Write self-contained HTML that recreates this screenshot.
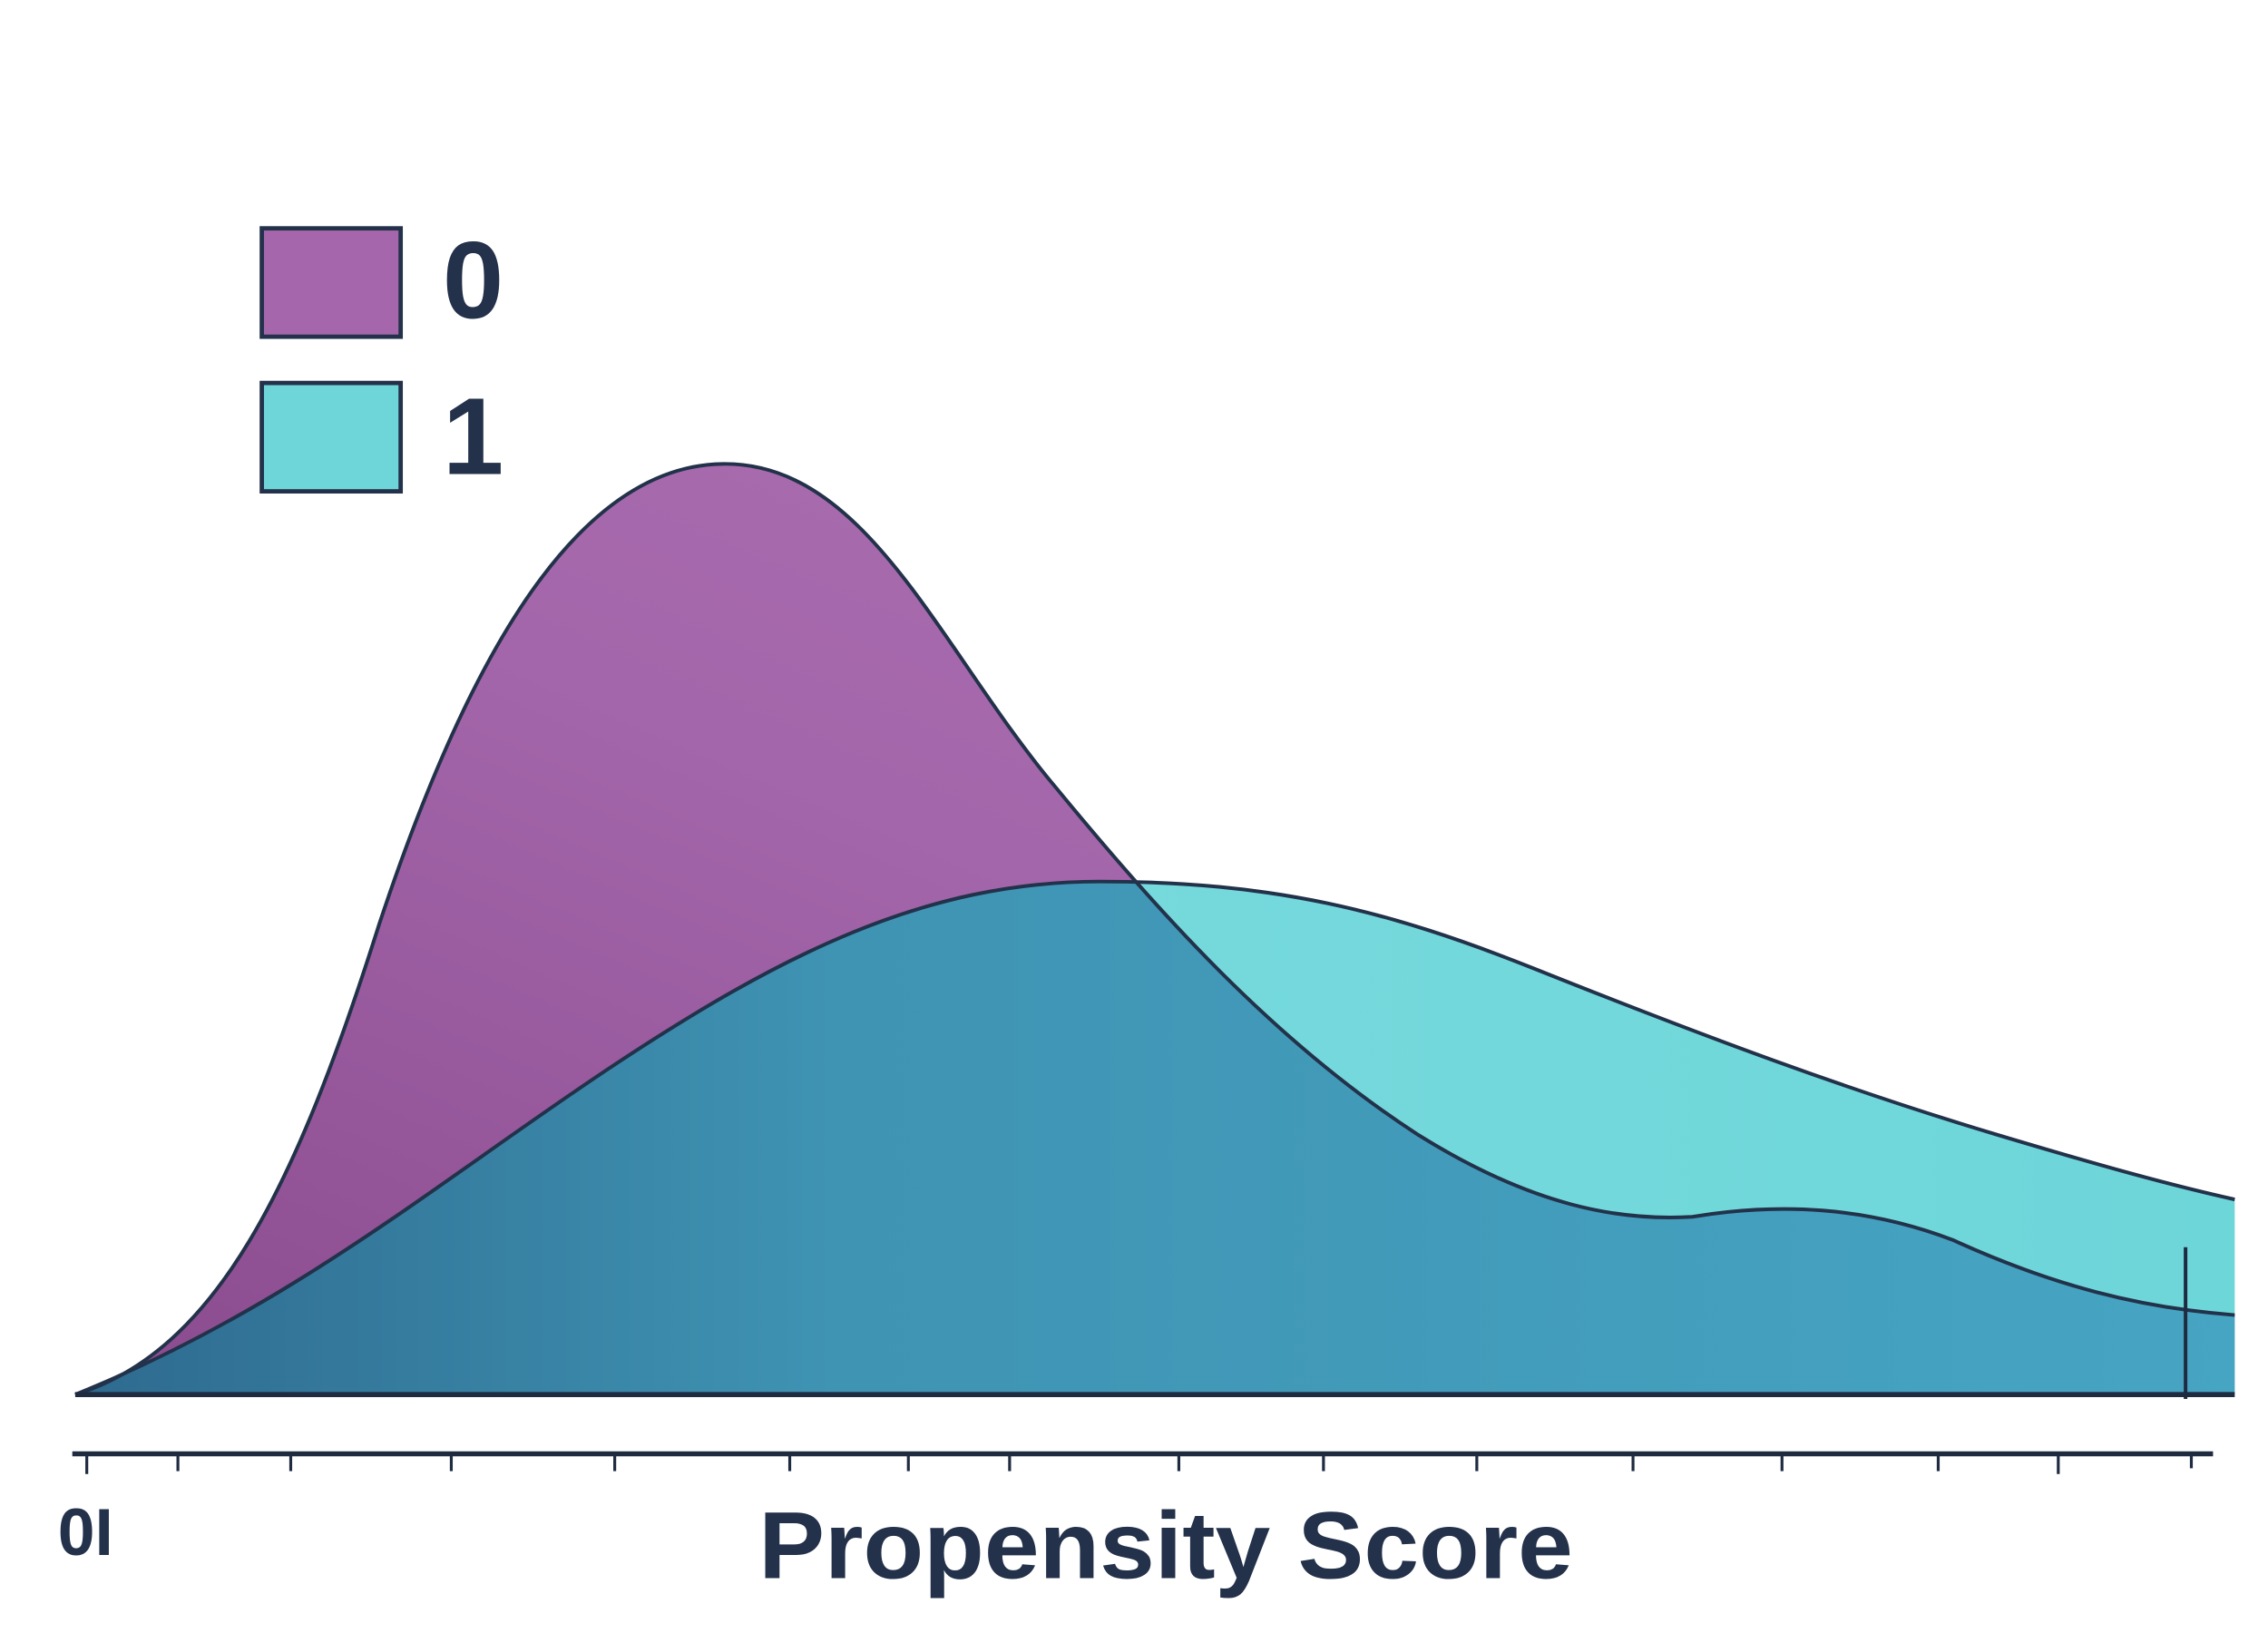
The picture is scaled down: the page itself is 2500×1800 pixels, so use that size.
<!DOCTYPE html>
<html><head><meta charset="utf-8"><style>
html,body{margin:0;padding:0;background:#fff;}
svg{display:block;}
</style></head><body>
<svg width="2500" height="1800" viewBox="0 0 1568 1130" preserveAspectRatio="none" xmlns="http://www.w3.org/2000/svg">
<defs>
<linearGradient id="pg" x1="0" y1="1" x2="1" y2="0">
<stop offset="0" stop-color="#8a4a8e"/><stop offset="0.5" stop-color="#a466aa"/><stop offset="1" stop-color="#ad72b2"/>
</linearGradient>
<linearGradient id="og" x1="0" y1="0" x2="1" y2="0">
<stop offset="0" stop-color="#2e6a8f"/><stop offset="0.35" stop-color="#3f93b3"/><stop offset="1" stop-color="#46a5c3"/>
</linearGradient>
<linearGradient id="tg" x1="0" y1="0" x2="1" y2="0">
<stop offset="0" stop-color="#7edcdf"/><stop offset="1" stop-color="#6dd6d9"/>
</linearGradient>
<clipPath id="pc"><path d="M52,965 C150,935 205,820 262,640 C315,480 390,322 500,321 C600,320 650,450 730,545 C800,630 880,720 980,785 C1060,835 1120,845 1170,842 C1230,832 1290,835 1350,858 C1420,890 1480,905 1545,910 L1545,965 Z"/></clipPath>
</defs>
<path d="M52,965 C150,935 205,820 262,640 C315,480 390,322 500,321 C600,320 650,450 730,545 C800,630 880,720 980,785 C1060,835 1120,845 1170,842 C1230,832 1290,835 1350,858 C1420,890 1480,905 1545,910 L1545,965 Z" fill="url(#pg)"/>
<path d="M52,965 C200,905 300,820 420,740 C540,660 640,610 760,610 C880,610 960,630 1060,670 C1180,718 1280,755 1380,785 C1450,806 1500,820 1545,830 L1545,965 Z" fill="url(#tg)"/>
<path d="M52,965 C200,905 300,820 420,740 C540,660 640,610 760,610 C880,610 960,630 1060,670 C1180,718 1280,755 1380,785 C1450,806 1500,820 1545,830 L1545,965 Z" fill="url(#og)" clip-path="url(#pc)"/>
<path d="M52,965 C150,935 205,820 262,640 C315,480 390,322 500,321 C600,320 650,450 730,545 C800,630 880,720 980,785 C1060,835 1120,845 1170,842 C1230,832 1290,835 1350,858 C1420,890 1480,905 1545,910" fill="none" stroke="#22324a" stroke-width="2.5"/>
<path d="M52,965 C200,905 300,820 420,740 C540,660 640,610 760,610 C880,610 960,630 1060,670 C1180,718 1280,755 1380,785 C1450,806 1500,820 1545,830" fill="none" stroke="#22324a" stroke-width="2.5"/>
<line x1="52" y1="965" x2="1545" y2="965" stroke="#1e2b40" stroke-width="3.5"/>
<line x1="1511" y1="863" x2="1511" y2="968" stroke="#1e2b40" stroke-width="2.5"/>
<line x1="50" y1="1006" x2="1530" y2="1006" stroke="#1e2b40" stroke-width="3.5"/>
<g stroke="#1e2b40" stroke-width="2">
<line x1="60" y1="1006" x2="60" y2="1020"/><line x1="123" y1="1006" x2="123" y2="1018"/><line x1="201" y1="1006" x2="201" y2="1018"/><line x1="312" y1="1006" x2="312" y2="1018"/><line x1="425" y1="1006" x2="425" y2="1018"/><line x1="546" y1="1006" x2="546" y2="1018"/><line x1="628" y1="1006" x2="628" y2="1018"/><line x1="698" y1="1006" x2="698" y2="1018"/><line x1="815" y1="1006" x2="815" y2="1018"/><line x1="915" y1="1006" x2="915" y2="1018"/><line x1="1021" y1="1006" x2="1021" y2="1018"/><line x1="1129" y1="1006" x2="1129" y2="1018"/><line x1="1232" y1="1006" x2="1232" y2="1018"/><line x1="1340" y1="1006" x2="1340" y2="1018"/><line x1="1423" y1="1006" x2="1423" y2="1020"/><line x1="1515" y1="1006" x2="1515" y2="1016"/>
</g>
<text x="40" y="1076" font-family="Liberation Sans, sans-serif" font-size="46" fill="#23314a" font-weight="bold">0I</text>
<text x="806" y="1092" text-anchor="middle" font-family="Liberation Sans, sans-serif" font-size="66" font-weight="bold" fill="#23314a" textLength="563" lengthAdjust="spacingAndGlyphs">Propensity Score</text>
<rect x="181" y="158" width="96" height="75" fill="#a566ab" stroke="#23314a" stroke-width="3"/>
<rect x="181" y="265" width="96" height="75" fill="#6ed6d9" stroke="#23314a" stroke-width="3"/>
<text x="306" y="220" font-family="Liberation Sans, sans-serif" font-size="76" font-weight="bold" fill="#23314a">0</text>
<text x="306" y="328" font-family="Liberation Sans, sans-serif" font-size="76" font-weight="bold" fill="#23314a">1</text>
</svg>
</body></html>
